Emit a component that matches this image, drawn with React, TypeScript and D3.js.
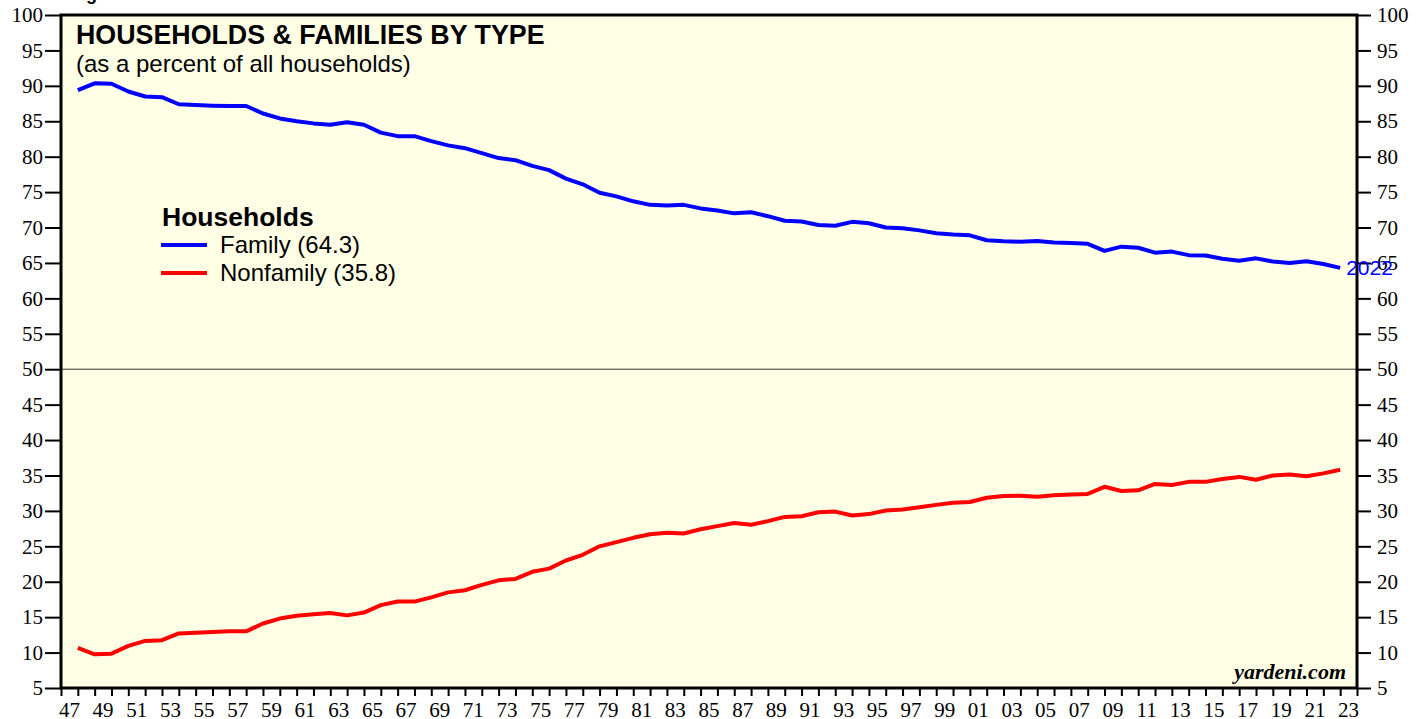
import React, { useEffect, useRef } from 'react'
import * as d3 from 'd3'

// annual data, % of all households
const years = [
  1947, 1948, 1949, 1950, 1951, 1952, 1953, 1954, 1955, 1956, 1957, 1958, 1959, 1960, 1961, 1962, 1963, 1964, 1965,
  1966, 1967, 1968, 1969, 1970, 1971, 1972, 1973, 1974, 1975, 1976, 1977, 1978, 1979, 1980, 1981, 1982, 1983, 1984,
  1985, 1986, 1987, 1988, 1989, 1990, 1991, 1992, 1993, 1994, 1995, 1996, 1997, 1998, 1999, 2000, 2001, 2002, 2003,
  2004, 2005, 2006, 2007, 2008, 2009, 2010, 2011, 2012, 2013, 2014, 2015, 2016, 2017, 2018, 2019, 2020, 2021, 2022,
]

const family = [
  89.4, 90.35, 90.3, 89.2, 88.5, 88.4, 87.4, 87.3, 87.2, 87.15, 87.15, 86.1, 85.4, 85.0, 84.7, 84.5, 84.85, 84.5, 83.4,
  82.9, 82.9, 82.2, 81.6, 81.2, 80.5, 79.8, 79.5, 78.7, 78.1, 76.9, 76.1, 74.9, 74.4, 73.7, 73.2, 73.1, 73.2, 72.7,
  72.4, 72.0, 72.15, 71.6, 70.95, 70.85, 70.35, 70.25, 70.8, 70.6, 70.0, 69.9, 69.6, 69.2, 69.0, 68.9, 68.2, 68.05, 68.0,
  68.1, 67.9, 67.8, 67.7, 66.7, 67.3, 67.15, 66.45, 66.6, 66.1, 66.05, 65.6, 65.3, 65.65, 65.2, 65.0, 65.25, 64.85, 64.3,
]

const nonfamily = [
  10.65, 9.75, 9.85, 10.95, 11.65, 11.75, 12.7, 12.8, 12.9, 13.0, 13.0, 14.1, 14.8, 15.2, 15.4, 15.6, 15.25, 15.65, 16.7,
  17.2, 17.2, 17.8, 18.5, 18.8, 19.55, 20.2, 20.4, 21.4, 21.85, 23.0, 23.8, 25.0, 25.6, 26.2, 26.7, 26.9, 26.8, 27.4,
  27.85, 28.3, 28.05, 28.55, 29.15, 29.25, 29.8, 29.9, 29.35, 29.55, 30.05, 30.2, 30.5, 30.85, 31.15, 31.25, 31.85, 32.1, 32.15,
  32.0, 32.2, 32.3, 32.4, 33.4, 32.8, 32.9, 33.8, 33.65, 34.1, 34.1, 34.5, 34.8, 34.4, 35.0, 35.15, 34.9, 35.3, 35.8,
]

const yTicks = [5, 10, 15, 20, 25, 30, 35, 40, 45, 50, 55, 60, 65, 70, 75, 80, 85, 90, 95, 100]
const xLabelYears = [
  1947, 1949, 1951, 1953, 1955, 1957, 1959, 1961, 1963, 1965, 1967, 1969, 1971, 1973, 1975, 1977, 1979, 1981, 1983,
  1985, 1987, 1989, 1991, 1993, 1995, 1997, 1999, 2001, 2003, 2005, 2007, 2009, 2011, 2013, 2015, 2017, 2019, 2021, 2023,
]

const SANS = '"Liberation Sans", Arial, sans-serif'
const SERIF = '"Liberation Serif", "Times New Roman", serif'

export default function App() {
  const ref = useRef<SVGSVGElement>(null)

  useEffect(() => {
    const width = 1427
    const height = 719
    const left = 61
    const right = 1357
    const top = 15
    const bottom = 688

    const svg = d3.select(ref.current)
    svg.selectAll('*').remove()
    svg.attr('width', width).attr('height', height)

    const xScale = d3.scaleLinear().domain([1947, 2024]).range([left, right])
    const yScale = d3.scaleLinear().domain([5, 100]).range([bottom, top])

    // header text above the frame, cut off by the page edge
    svg.append('text')
      .attr('x', 70).attr('y', 0)
      .style('font-family', SANS).style('font-weight', 'bold').style('font-size', '18px')
      .text('Figure')

    svg.append('rect')
      .attr('x', left).attr('y', top)
      .attr('width', right - left).attr('height', bottom - top)
      .attr('fill', '#ffffe6')

    svg.append('line')
      .attr('x1', left).attr('x2', right)
      .attr('y1', yScale(50)).attr('y2', yScale(50))
      .attr('stroke', '#333').attr('stroke-width', 1)

    // annual points plotted at the end of each year
    const line = d3.line<number>()
      .x((d, i) => xScale(years[i] + 1))
      .y(d => yScale(d))

    svg.append('path').datum(family)
      .attr('d', line).attr('fill', 'none')
      .attr('stroke', '#0000ff').attr('stroke-width', 4).attr('stroke-linejoin', 'round')

    svg.append('path').datum(nonfamily)
      .attr('d', line).attr('fill', 'none')
      .attr('stroke', '#ff0000').attr('stroke-width', 4).attr('stroke-linejoin', 'round')

    const leftAxis = svg.append('g')
      .attr('transform', `translate(${left},0)`)
      .call(d3.axisLeft(yScale).tickValues(yTicks).tickSize(16).tickPadding(2))
    const rightAxis = svg.append('g')
      .attr('transform', `translate(${right},0)`)
      .call(d3.axisRight(yScale).tickValues(yTicks).tickSize(14).tickPadding(6))
    const bottomAxis = svg.append('g')
      .attr('transform', `translate(0,${bottom})`)
      .call(d3.axisBottom(xScale).tickValues(d3.range(1947, 2025)).tickSize(8).tickFormat(() => ''))

    for (const g of [leftAxis, rightAxis, bottomAxis]) {
      g.select('.domain').remove()
      g.selectAll('line').attr('stroke', '#000').attr('stroke-width', 2)
      g.selectAll('text')
        .attr('fill', '#000')
        .style('font-family', SERIF).style('font-size', '21px')
    }

    svg.append('g').selectAll('text')
      .data(xLabelYears)
      .enter()
      .append('text')
      .attr('x', d => xScale(d + 0.5))
      .attr('y', 717)
      .attr('text-anchor', 'middle')
      .style('font-family', SERIF).style('font-size', '21px')
      .text(d => String(d % 100).padStart(2, '0'))

    svg.append('rect')
      .attr('x', left).attr('y', top)
      .attr('width', right - left).attr('height', bottom - top)
      .attr('fill', 'none').attr('stroke', '#000').attr('stroke-width', 3)

    svg.append('text')
      .attr('x', xScale(2023) + 6).attr('y', yScale(family[family.length - 1]) + 7)
      .attr('fill', '#0000ff')
      .style('font-family', SANS).style('font-size', '21px')
      .text('2022')

    svg.append('text')
      .attr('x', 76).attr('y', 44)
      .style('font-family', SANS).style('font-weight', 'bold').style('font-size', '26.8px')
      .text('HOUSEHOLDS & FAMILIES BY TYPE')
    svg.append('text')
      .attr('x', 76).attr('y', 72)
      .style('font-family', SANS).style('font-size', '24px')
      .text('(as a percent of all households)')

    svg.append('text')
      .attr('x', 162).attr('y', 226)
      .style('font-family', SANS).style('font-weight', 'bold').style('font-size', '26.5px')
      .text('Households')

    const legend = [
      { label: `Family (${family[family.length - 1]})`, color: '#0000ff' },
      { label: `Nonfamily (${nonfamily[nonfamily.length - 1]})`, color: '#ff0000' },
    ]
    legend.forEach((item, i) => {
      const ly = 245 + i * 28
      svg.append('line')
        .attr('x1', 161).attr('x2', 207).attr('y1', ly).attr('y2', ly)
        .attr('stroke', item.color).attr('stroke-width', 4)
      svg.append('text')
        .attr('x', 220).attr('y', ly + 8)
        .style('font-family', SANS).style('font-size', '24px')
        .text(item.label)
    })

    svg.append('text')
      .attr('x', 1346).attr('y', 679)
      .attr('text-anchor', 'end')
      .style('font-family', SERIF).style('font-weight', 'bold').style('font-style', 'italic').style('font-size', '22px')
      .text('yardeni.com')
  }, [])

  return (
    <div>
      <style>{'body{margin:0}'}</style>
      <svg ref={ref} style={{ display: 'block' }}></svg>
    </div>
  )
}
